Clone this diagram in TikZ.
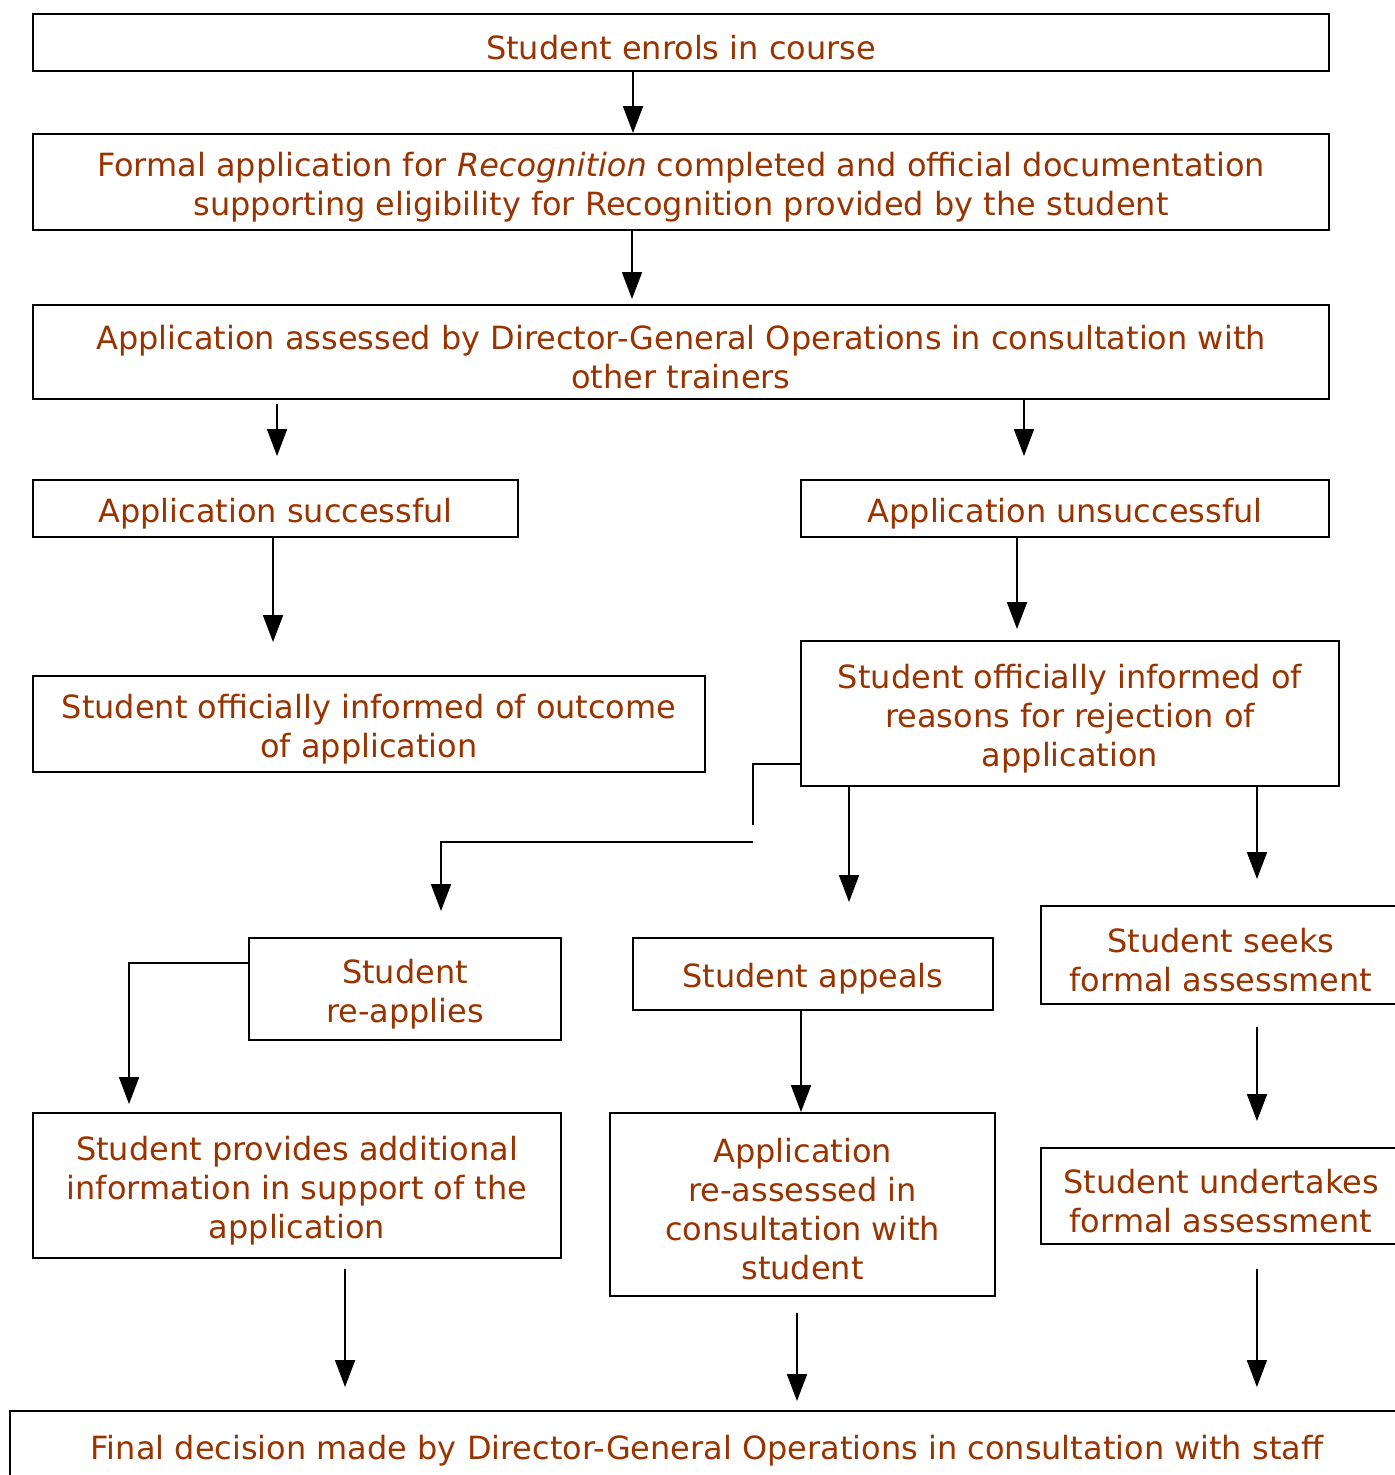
\documentclass[tikz,border=0pt]{standalone}
\usepackage{fontspec}
\setmainfont{DejaVu Sans}
\usepackage{tikz}
\usetikzlibrary{arrows.meta}
\definecolor{txtbrown}{HTML}{993300}
\newcommand{\topgap}{\rule{0pt}{19.5pt}}

\begin{document}
\begin{tikzpicture}[x=0.02cm,y=-0.02cm]
  \tikzset{box/.style = {shape=rectangle,draw,line width=1.1pt,align=center,inner sep=0pt,text=txtbrown,font=\fontsize{18.2pt}{22.2pt}\selectfont}}
  \tikzset{flow/.style = {line width=1pt,-{Triangle[width=0.4cm,length=0.54cm]}}}

  \clip (0,0) rectangle (1395,1475);

	\node[box,minimum width=25.92cm,minimum height=1.14cm] (enrol) at (681,42.5) {\topgap Student enrols in course};
	\node[box,minimum width=25.92cm,minimum height=1.92cm] (formal) at (681,182) {\topgap Formal application for \textit{Recognition} completed and official documentation\\supporting eligibility for Recognition provided by the student};
	\node[box,minimum width=25.92cm,minimum height=1.88cm] (assess) at (681,352) {\topgap Application assessed by Director-General Operations in consultation with\\other trainers};

	\node[box,minimum width=9.7cm,minimum height=1.14cm] (succ) at (275.5,508.5) {\topgap Application successful};
	\node[box,minimum width=10.56cm,minimum height=1.14cm] (unsucc) at (1065,508.5) {\topgap Application unsuccessful};

	\node[box,minimum width=13.44cm,minimum height=1.92cm] (outcome) at (369,724) {\topgap Student officially informed of outcome\\of application};
	\node[box,minimum width=10.76cm,minimum height=2.9cm] (reasons) at (1070,713.5) {\topgap Student officially informed of\\reasons for rejection of\\application};

	\node[box,minimum width=6.24cm,minimum height=2.04cm] (reapply) at (405,989) {\topgap Student\\re-applies};
	\node[box,minimum width=7.2cm,minimum height=1.44cm] (appeal) at (813,974) {\topgap Student appeals};
	\node[box,minimum width=7.2cm,minimum height=1.96cm] (seek) at (1221,955) {\topgap Student seeks\\formal assessment};

	\node[box,minimum width=10.56cm,minimum height=2.9cm] (provide) at (297,1185.5) {\topgap Student provides additional\\information in support of the\\application};
	\node[box,minimum width=7.7cm,minimum height=3.66cm] (reassess) at (802.5,1204.5) {\topgap Application\\re-assessed in\\consultation with\\student};
	\node[box,minimum width=7.2cm,minimum height=1.92cm] (undertake) at (1221,1196) {\topgap Student undertakes\\formal assessment};

	\node[box,minimum width=27.88cm,minimum height=1.38cm] (final) at (707,1445.5) {\topgap Final decision made by Director-General Operations in consultation with staff};

	\coordinate (k1) at (753,825);
	\coordinate (k2) at (753,842);

	\draw[flow] ([xshift=-0.96cm]enrol.south) -- ([xshift=-0.96cm]formal.north);
	\draw[flow,shorten >=0.1cm] ([xshift=-0.98cm]formal.south) -- ([xshift=-0.98cm]assess.north);
	\draw[flow,shorten <=0.08cm,shorten >=0.46cm] ([xshift=-8.08cm]assess.south) -- ([xshift=0.03cm]succ.north);
	\draw[flow,shorten >=0.46cm] ([xshift=6.86cm]assess.south) -- ([xshift=-0.82cm]unsucc.north);
	\draw[flow,shorten >=0.66cm] ([xshift=-0.05cm]succ.south) -- ([xshift=-1.92cm]outcome.north);
	\draw[flow,shorten >=0.22cm] ([xshift=-0.96cm]unsucc.south) -- ([xshift=-1.06cm]reasons.north);

	\draw[line width=1pt] ([yshift=-1.01cm]reasons.west) -| (k1);
	\draw[flow,shorten >=0.52cm] (k2) -| ([xshift=0.72cm]reapply.north);
	\draw[flow,shorten >=0.7cm] ([xshift=-4.42cm]reasons.south) -- ([xshift=0.72cm]appeal.north);
	\draw[flow,shorten >=0.52cm] ([xshift=3.74cm]reasons.south) -- ([xshift=0.72cm]seek.north);

	\draw[flow,shorten >=0.16cm] ([yshift=0.52cm]reapply.west) -| ([xshift=-3.36cm]provide.north);
	\draw[flow] ([xshift=-0.24cm]appeal.south) -- ([xshift=-0.03cm]reassess.north);
	\draw[flow,shorten <=0.44cm,shorten >=0.52cm] ([xshift=0.72cm]seek.south) -- ([xshift=0.72cm]undertake.north);

	\draw[flow,shorten <=0.2cm,shorten >=0.46cm] ([xshift=0.96cm]provide.south) -- ([xshift=-7.24cm]final.north);
	\draw[flow,shorten <=0.32cm,shorten >=0.18cm] ([xshift=-0.11cm]reassess.south) -- ([xshift=1.8cm]final.north);
	\draw[flow,shorten <=0.48cm,shorten >=0.46cm] ([xshift=0.72cm]undertake.south) -- ([xshift=11cm]final.north);
\end{tikzpicture}
\end{document}
